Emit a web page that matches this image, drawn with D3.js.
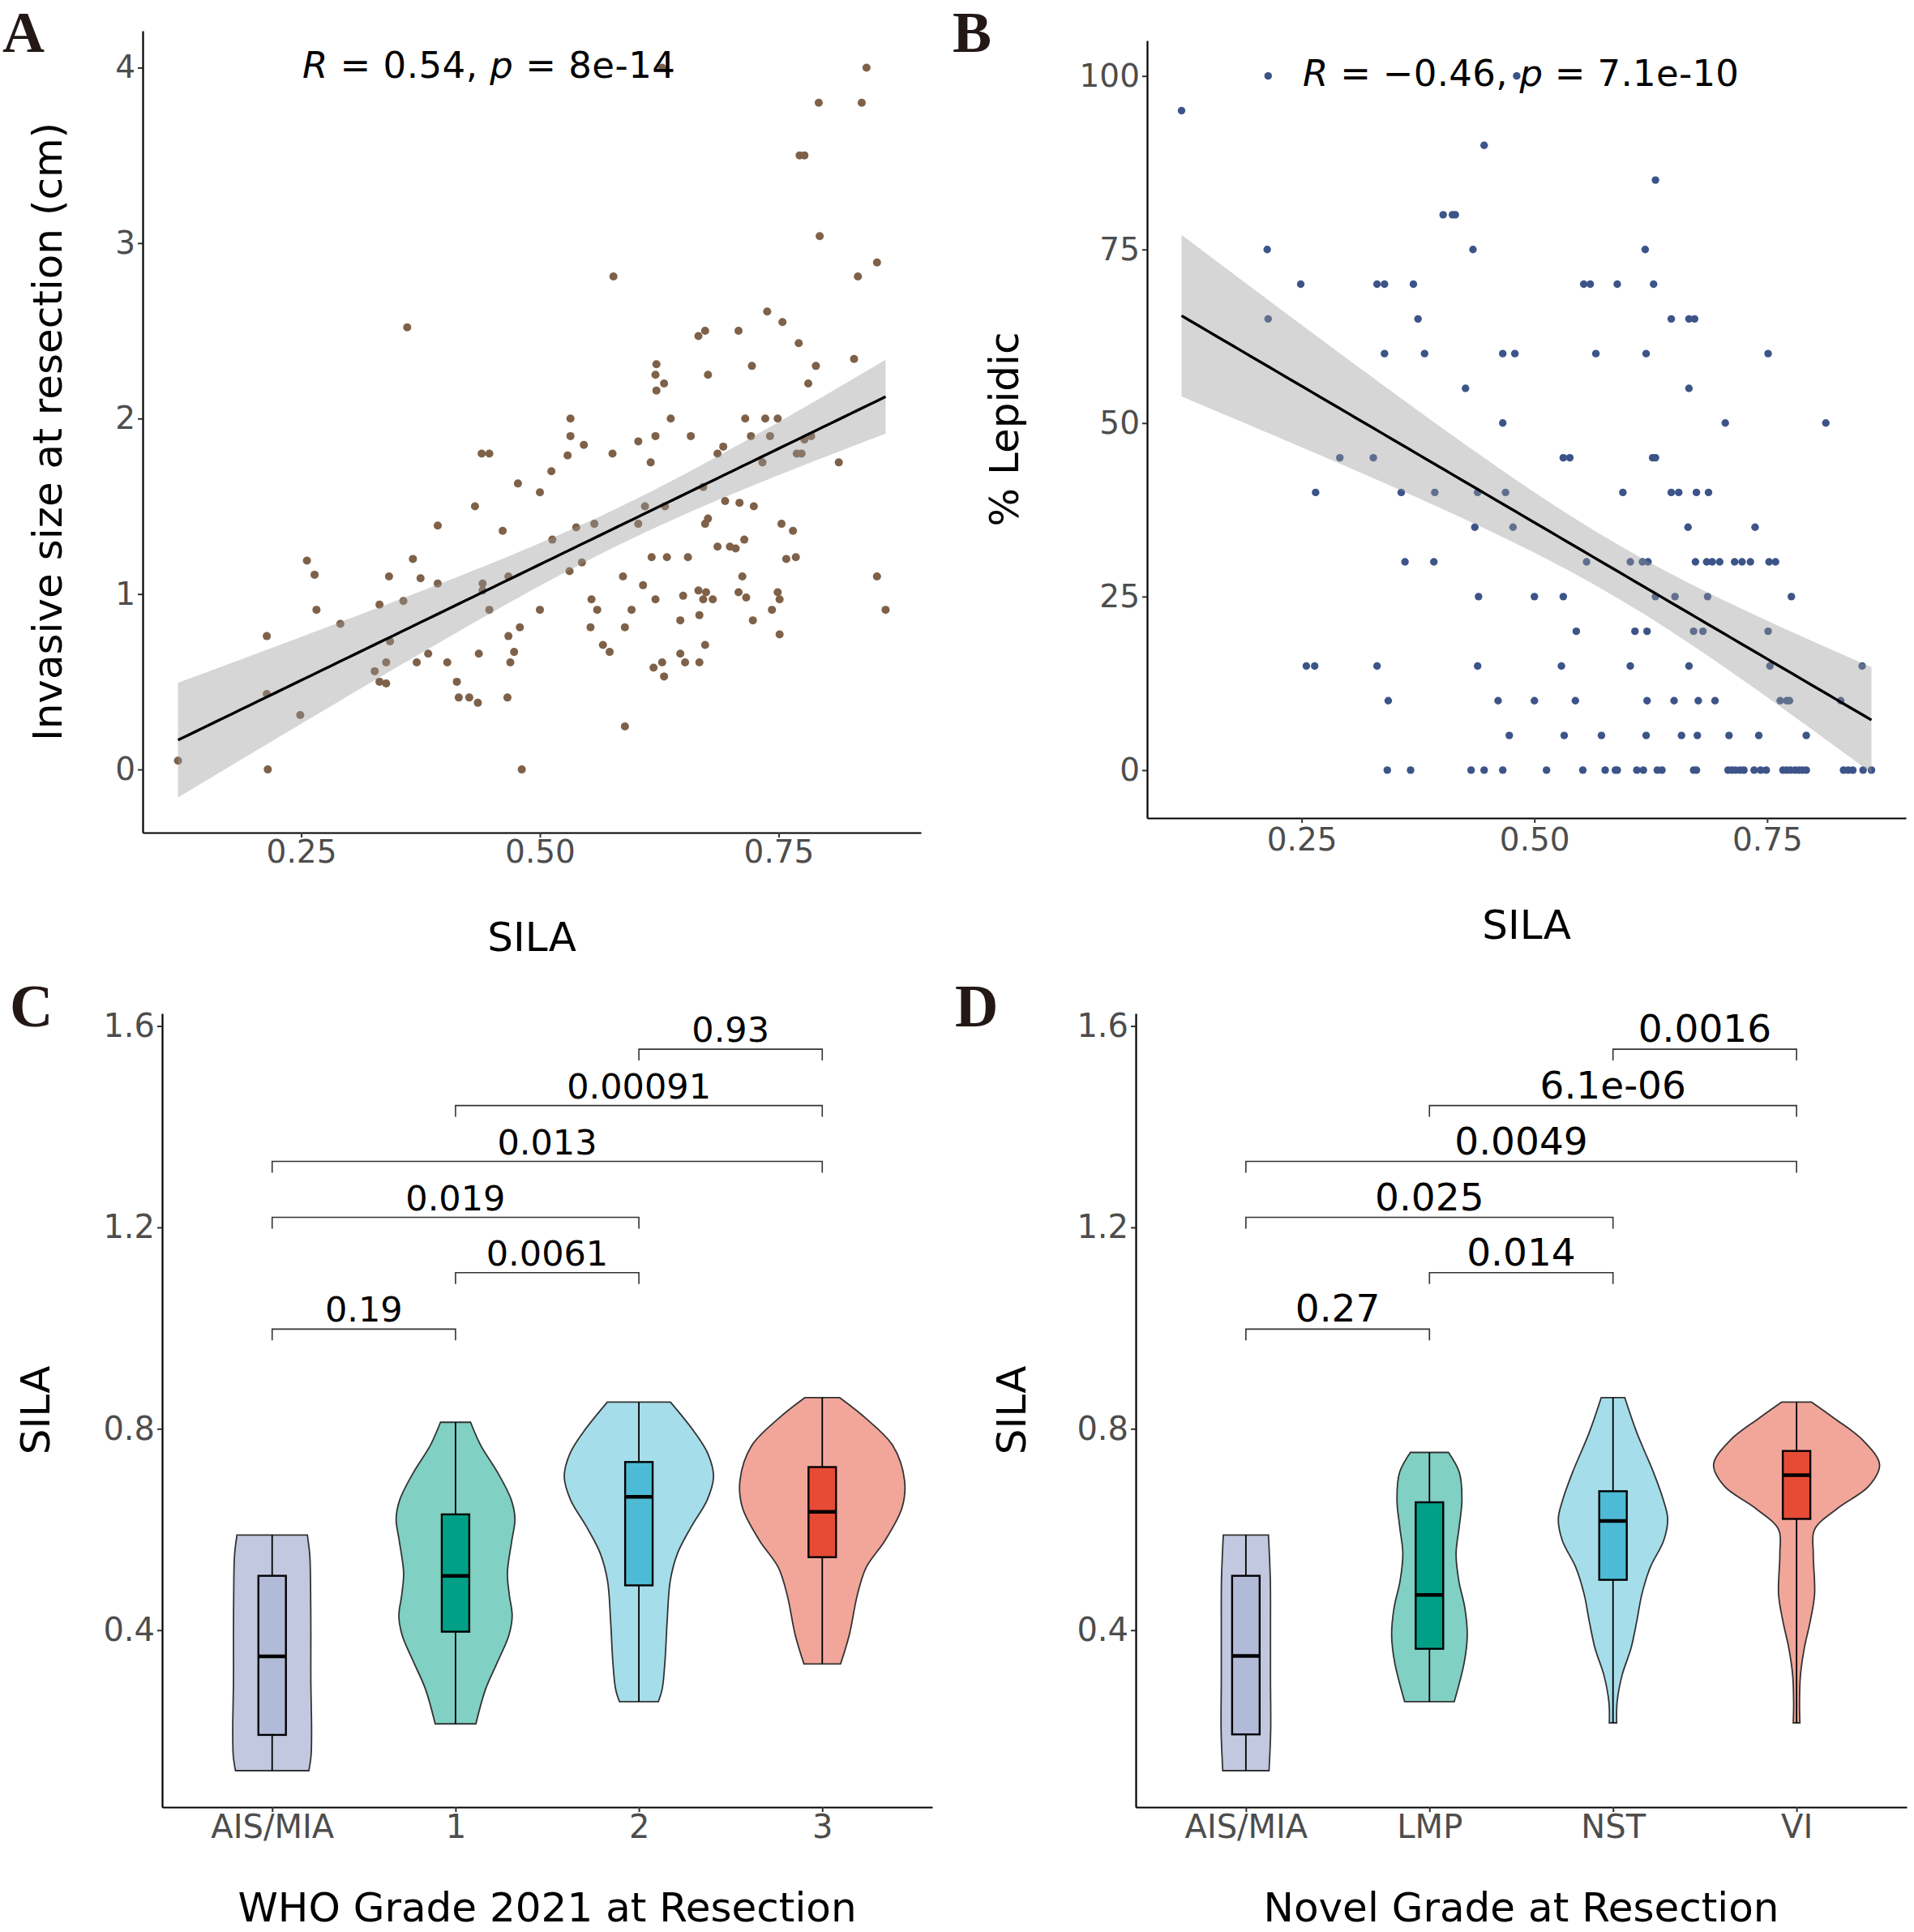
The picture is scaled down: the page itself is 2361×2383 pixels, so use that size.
<!DOCTYPE html>
<html><head><meta charset="utf-8">
<script src="https://cdn.jsdelivr.net/npm/d3@7"></script>
<style>
body{margin:0;background:#fff}
svg{display:block}
text{font-family:"DejaVu Sans",sans-serif}
</style>
</head><body>
<svg id="fig" width="2361" height="2383"></svg>
<script>
// ---------------- DATA ----------------
// Panel A: [SILA, invasive size at resection (cm)]
const pointsA = [
[0.628,4.00],[0.842,4.00],[0.792,3.80],[0.837,3.80],[0.772,3.50],[0.777,3.50],[0.793,3.04],[0.853,2.89],[0.833,2.81],[0.577,2.81],
[0.738,2.61],[0.754,2.55],[0.771,2.43],[0.829,2.34],[0.789,2.30],[0.781,2.20],[0.673,2.50],[0.666,2.47],[0.708,2.50],[0.722,2.30],
[0.676,2.25],[0.622,2.31],[0.621,2.25],[0.630,2.20],[0.622,2.16],[0.532,2.00],[0.532,1.90],[0.546,1.85],[0.603,1.87],[0.621,1.90],
[0.637,2.00],[0.658,1.90],[0.715,2.00],[0.736,2.00],[0.749,2.00],[0.721,1.90],[0.741,1.90],[0.777,1.88],[0.784,1.90],[0.692,1.84],
[0.361,2.52],
[0.529,1.79],[0.576,1.80],[0.616,1.75],[0.686,1.80],[0.769,1.80],[0.774,1.80],[0.733,1.75],[0.813,1.75],[0.512,1.70],[0.500,1.58],
[0.671,1.61],[0.610,1.50],[0.631,1.50],[0.694,1.53],[0.709,1.52],[0.724,1.50],[0.676,1.43],[0.673,1.40],[0.603,1.40],[0.557,1.40],
[0.538,1.38],[0.513,1.31],[0.753,1.40],[0.765,1.36],[0.714,1.31],[0.686,1.27],[0.699,1.27],[0.705,1.26],[0.544,1.18],[0.531,1.13],
[0.617,1.21],[0.633,1.21],[0.655,1.21],[0.758,1.20],[0.768,1.21],[0.587,1.10],[0.712,1.10],[0.853,1.10],[0.608,1.05],[0.666,1.02],
[0.674,1.01],[0.650,0.99],[0.554,0.97],[0.621,0.97],[0.671,0.97],[0.681,0.97],[0.708,1.01],[0.716,0.98],[0.749,1.01],[0.751,0.97],
[0.500,0.91],[0.560,0.91],[0.596,0.91],[0.743,0.91],[0.862,0.91],[0.667,0.88],[0.553,0.81],[0.589,0.81],[0.647,0.85],[0.723,0.85],
[0.751,0.77],[0.566,0.71],[0.573,0.67],[0.673,0.71],[0.647,0.66],[0.619,0.58],[0.628,0.61],[0.652,0.61],[0.667,0.61],[0.630,0.53],
[0.589,0.245],
[0.439,1.80],[0.447,1.80],[0.477,1.63],[0.432,1.50],[0.393,1.39],[0.461,1.36],[0.256,1.19],[0.367,1.20],[0.264,1.11],[0.342,1.10],
[0.375,1.09],[0.393,1.06],[0.440,1.06],[0.440,1.02],[0.467,1.10],[0.447,0.91],[0.266,0.91],[0.332,0.94],[0.357,0.96],[0.291,0.83],
[0.214,0.76],[0.479,0.81],[0.467,0.76],[0.473,0.67],[0.469,0.61],[0.343,0.73],[0.383,0.66],[0.371,0.61],[0.403,0.61],[0.436,0.66],
[0.339,0.61],[0.327,0.56],[0.332,0.50],[0.339,0.49],[0.413,0.50],[0.415,0.41],[0.426,0.41],[0.435,0.38],[0.466,0.41],[0.214,0.43],
[0.249,0.31],[0.121,0.05],[0.215,0.00],[0.481,0.00]
];

// Panel B: [SILA, % lepidic]
const pointsB = [
[0.121,95],[0.214,100],[0.481,100],[0.446,90],[0.402,80],[0.412,80],[0.415,80],[0.213,75],[0.434,75],[0.249,70],
[0.331,70],[0.339,70],[0.370,70],[0.214,65],[0.375,65],[0.339,60],[0.382,60],[0.466,60],[0.479,60],[0.426,55],[0.466,50],
[0.630,85],[0.619,75],[0.553,70],[0.560,70],[0.589,70],[0.628,70],[0.647,65],[0.666,65],[0.672,65],[0.566,60],[0.620,60],
[0.751,60],[0.666,55],[0.705,50],[0.813,50],
[0.291,45],[0.327,45],[0.265,40],[0.357,40],[0.393,40],[0.439,40],[0.469,40],[0.436,35],[0.477,35],[0.361,30],[0.392,30],
[0.440,25],[0.255,15],[0.264,15],[0.331,15],[0.439,15],[0.343,10],[0.461,10],[0.473,5],[0.342,0],[0.367,0],[0.432,0],
[0.446,0],[0.466,0],
[0.531,45],[0.538,45],[0.627,45],[0.630,45],[0.595,40],[0.647,40],[0.655,40],[0.674,40],[0.687,40],[0.665,35],[0.737,35],
[0.556,30],[0.603,30],[0.616,30],[0.622,30],[0.673,30],[0.685,30],[0.691,30],[0.699,30],[0.715,30],[0.723,30],[0.732,30],
[0.752,30],[0.759,30],[0.500,25],[0.531,25],[0.630,25],[0.651,25],[0.686,25],[0.776,25],[0.545,20],[0.608,20],[0.621,20],
[0.671,20],[0.681,20],[0.751,20],[0.529,15],[0.603,15],[0.666,15],[0.753,15],[0.852,15],[0.500,10],[0.544,10],[0.621,10],
[0.650,10],[0.676,10],[0.694,10],[0.764,10],[0.771,10],[0.774,10],[0.829,10],[0.532,5],[0.572,5],[0.620,5],[0.658,5],
[0.675,5],[0.709,5],[0.741,5],[0.792,5],
[0.513,0],[0.552,0],[0.576,0],[0.587,0],[0.589,0],[0.610,0],[0.617,0],[0.632,0],[0.637,0],[0.671,0],[0.674,0],[0.708,0],
[0.712,0],[0.716,0],[0.721,0],[0.725,0],[0.736,0],[0.743,0],[0.749,0],[0.767,0],[0.771,0],[0.775,0],[0.780,0],[0.784,0],
[0.788,0],[0.792,0],[0.832,0],[0.837,0],[0.842,0],[0.853,0],[0.862,0]
];

const xTicksAB = [0.25, 0.50, 0.75];
const yTicksA = [0, 1, 2, 3, 4];
const yTicksB = [0, 25, 50, 75, 100];
const statA = {r: "0.54", p: "8e-14"};
const statB = {r: "\u22120.46", p: "7.1e-10"};

// Panels C / D
const catsC = ["AIS/MIA", "1", "2", "3"];
const catsD = ["AIS/MIA", "LMP", "NST", "VI"];
const yTicksCD = [0.4, 0.8, 1.2, 1.6];
// violin density profiles: [SILA, half-width as fraction of category spacing]
const violinC = [
  [[0.589,0.192],[0.55,0.205],[0.5,0.209],[0.4,0.211],[0.3,0.211],[0.2,0.215],[0.15,0.212],[0.121,0.200]],
  [[0.813,0.082],[0.766,0.139],[0.713,0.230],[0.659,0.304],[0.621,0.324],[0.578,0.307],[0.514,0.283],[0.471,0.293],[0.428,0.309],[0.390,0.291],[0.337,0.229],[0.283,0.164],[0.214,0.111]],
  [[0.853,0.172],[0.793,0.304],[0.750,0.377],[0.705,0.407],[0.659,0.373],[0.605,0.285],[0.552,0.210],[0.498,0.171],[0.417,0.154],[0.337,0.142],[0.283,0.127],[0.258,0.106]],
  [[0.862,0.094],[0.820,0.240],[0.766,0.386],[0.697,0.449],[0.643,0.435],[0.578,0.342],[0.525,0.240],[0.471,0.192],[0.390,0.147],[0.333,0.100]]
];
const violinD = [
  [[0.589,0.123],[0.5,0.133],[0.4,0.134],[0.3,0.134],[0.2,0.135],[0.121,0.126]],
  [[0.753,0.104],[0.713,0.163],[0.659,0.177],[0.605,0.162],[0.552,0.145],[0.498,0.160],[0.444,0.193],[0.390,0.206],[0.337,0.190],[0.258,0.135]],
  [[0.862,0.064],[0.793,0.129],[0.713,0.221],[0.659,0.274],[0.621,0.298],[0.578,0.276],[0.525,0.203],[0.471,0.157],[0.417,0.129],[0.364,0.098],[0.310,0.049],[0.256,0.022],[0.216,0.020]],
  [[0.853,0.082],[0.820,0.209],[0.777,0.362],[0.729,0.452],[0.686,0.393],[0.643,0.227],[0.600,0.098],[0.552,0.091],[0.471,0.098],[0.417,0.074],[0.364,0.042],[0.310,0.021],[0.256,0.016],[0.216,0.018]]
];
// box stats: [min, q1, median, q3, max]
const boxC = [[0.121,0.192,0.348,0.508,0.589],[0.214,0.397,0.508,0.630,0.813],[0.258,0.489,0.665,0.734,0.853],[0.333,0.545,0.635,0.724,0.862]];
const boxD = [[0.121,0.193,0.349,0.508,0.589],[0.258,0.363,0.470,0.654,0.753],[0.216,0.500,0.617,0.676,0.862],[0.216,0.621,0.708,0.756,0.853]];
// pairwise comparisons: [group1, group2, y.position, p label]
const compC = [["AIS/MIA","1",0.998,"0.19"],["1","2",1.110,"0.0061"],["AIS/MIA","2",1.220,"0.019"],["AIS/MIA","3",1.331,"0.013"],["1","3",1.442,"0.00091"],["2","3",1.554,"0.93"]];
const compD = [["AIS/MIA","LMP",0.998,"0.27"],["LMP","NST",1.110,"0.014"],["AIS/MIA","NST",1.220,"0.025"],["AIS/MIA","VI",1.331,"0.0049"],["LMP","VI",1.442,"6.1e-06"],["NST","VI",1.554,"0.0016"]];

// ---------------- STYLE ----------------
const boxColors = ["#B1BAD7","#00A087","#4DBBD5","#E64B35"];
const violinColors = ["#C2C8E0","#80D0C3","#A6DDEA","#F2A69A"];
const tickGrey = "#4D4D4D";

const svg = d3.select("#fig");

function styleAxis(g, fs){
  g.select(".domain").attr("stroke","#000").attr("stroke-width",2.2);
  g.selectAll(".tick line").attr("stroke","#333").attr("stroke-width",2);
  g.selectAll(".tick text").attr("fill",tickGrey).style("font-size",fs+"px").style("font-family","DejaVu Sans");
}

function lmBand(pts, n){
  const N = pts.length;
  const mx = d3.mean(pts,d=>d[0]), my = d3.mean(pts,d=>d[1]);
  let sxx=0, sxy=0;
  pts.forEach(([a,b])=>{sxx+=(a-mx)*(a-mx); sxy+=(a-mx)*(b-my);});
  const b1 = sxy/sxx, b0 = my-b1*mx;
  let sse=0; pts.forEach(([a,b])=>{const e=b-b0-b1*a; sse+=e*e;});
  const s = Math.sqrt(sse/(N-2)), t = 1.976;
  const [x0,x1] = d3.extent(pts,d=>d[0]);
  return d3.range(n).map(i=>{
    const xv = x0+(x1-x0)*i/(n-1), f = b0+b1*xv;
    const se = s*Math.sqrt(1/N+(xv-mx)*(xv-mx)/sxx);
    return {x:xv, y:f, lo:f-t*se, hi:f+t*se};
  });
}

function scatterPanel(o){
  const g = svg.append("g");
  const x = d3.scaleLinear().domain(o.xDomain).range([o.left,o.right]);
  const y = d3.scaleLinear().domain(o.yDomain).range([o.bottom,o.top]);
  g.append("g").selectAll("circle").data(o.points).join("circle")
    .attr("cx",d=>x(d[0])).attr("cy",d=>y(d[1])).attr("r",o.r).attr("fill",o.color);
  const fit = lmBand(o.points, 80);
  g.append("path").datum(fit)
    .attr("d", d3.area().x(d=>x(d.x)).y0(d=>y(d.lo)).y1(d=>y(d.hi)))
    .attr("fill","#999999").attr("fill-opacity",0.4);
  g.append("path").datum(fit)
    .attr("d", d3.line().x(d=>x(d.x)).y(d=>y(d.y)))
    .attr("fill","none").attr("stroke","#000").attr("stroke-width",3.4);
  const ax = g.append("g").attr("transform",`translate(0,${o.bottom})`)
    .call(d3.axisBottom(x).tickValues(xTicksAB).tickFormat(d3.format(".2f")).tickSize(6).tickSizeOuter(0).tickPadding(o.xPad));
  styleAxis(ax, 39);
  const ay = g.append("g").attr("transform",`translate(${o.left},0)`)
    .call(d3.axisLeft(y).tickValues(o.yTicks).tickFormat(d3.format("d")).tickSize(6).tickSizeOuter(0).tickPadding(3));
  styleAxis(ay, 39);
  // titles
  g.append("text").attr("x",(o.left+o.right)/2).attr("y",o.xTitleY).attr("text-anchor","middle")
    .style("font-size","50px").attr("fill","#000").text("SILA");
  g.append("text").attr("transform",`translate(${o.yTitleX},${(o.top+o.bottom)/2}) rotate(-90)`)
    .attr("text-anchor","middle").style("font-size","50px").attr("fill","#000").text(o.yTitle);
  // correlation annotation
  const t = g.append("text").attr("x",o.statX).attr("y",o.statY).style("font-size","45px").attr("fill","#000")
    .attr("textLength",o.statW).attr("lengthAdjust","spacing");
  t.append("tspan").style("font-style","italic").text("R");
  t.append("tspan").text(" = "+o.stat.r+", ");
  t.append("tspan").style("font-style","italic").text("p");
  t.append("tspan").text(" = "+o.stat.p);
}

function violinPanel(o){
  const g = svg.append("g");
  const x = d3.scalePoint().domain(o.cats).range([o.left,o.right]).padding(0.6);
  const step = x.step();
  const y = d3.scaleLinear().domain([0.0485,1.625]).range([o.bottom,o.top]);
  o.cats.forEach((c,i)=>{
    const cx = x(c);
    const area = d3.area().curve(d3.curveCatmullRom.alpha(0.5))
      .y(d=>y(d[0])).x0(d=>cx-d[1]*step).x1(d=>cx+d[1]*step);
    g.append("path").attr("d",area(o.violins[i])).attr("fill",violinColors[i])
      .attr("stroke","#333").attr("stroke-width",1.8);
    const b = o.boxes[i], bw = 0.15*step;
    g.append("line").attr("x1",cx).attr("x2",cx).attr("y1",y(b[0])).attr("y2",y(b[4]))
      .attr("stroke","#000").attr("stroke-width",1.8);
    g.append("rect").attr("x",cx-bw/2).attr("width",bw).attr("y",y(b[3])).attr("height",y(b[1])-y(b[3]))
      .attr("fill",boxColors[i]).attr("stroke","#000").attr("stroke-width",2.4);
    g.append("line").attr("x1",cx-bw/2).attr("x2",cx+bw/2).attr("y1",y(b[2])).attr("y2",y(b[2]))
      .attr("stroke","#000").attr("stroke-width",4.5);
  });
  // comparison brackets
  const tick = 0.0225;
  o.comps.forEach(cmp=>{
    const x1 = x(cmp[0]), x2 = x(cmp[1]), yy = y(cmp[2]), yt = y(cmp[2]-tick);
    g.append("path").attr("d",`M${x1},${yt}L${x1},${yy}L${x2},${yy}L${x2},${yt}`)
      .attr("fill","none").attr("stroke","#333").attr("stroke-width",1.6);
    g.append("text").attr("x",(x1+x2)/2).attr("y",yy-9).attr("text-anchor","middle")
      .style("font-size",o.labelSize+"px").attr("fill","#000").text(cmp[3]);
  });
  const ax = g.append("g").attr("transform",`translate(0,${o.bottom})`)
    .call(d3.axisBottom(x).tickSize(6).tickSizeOuter(0).tickPadding(4));
  styleAxis(ax, 40);
  const ay = g.append("g").attr("transform",`translate(${o.left},0)`)
    .call(d3.axisLeft(y).tickValues(yTicksCD).tickFormat(d3.format(".1f")).tickSize(6).tickSizeOuter(0).tickPadding(3));
  styleAxis(ay, 40);
  g.append("text").attr("x",(o.left+o.right)/2).attr("y",2370).attr("text-anchor","middle")
    .style("font-size","50px").attr("fill","#000").text(o.xTitle);
  g.append("text").attr("transform",`translate(${o.yTitleX},${(o.top+o.bottom)/2}) rotate(-90)`)
    .attr("text-anchor","middle").style("font-size","50px").attr("fill","#000").text("SILA");
}

scatterPanel({points:pointsA, xDomain:[0.084,0.899], yDomain:[-0.36,4.21], left:176, right:1136, top:38, bottom:1027,
  r:5, color:"#7E6148", yTicks:yTicksA, yTitle:"Invasive size at resection (cm)", yTitleX:76, xTitleY:1173, xPad:3,
  stat:statA, statX:373, statY:96, statW:460});
scatterPanel({points:pointsB, xDomain:[0.084,0.899], yDomain:[-6.9,105.1], left:1415, right:2351, top:50, bottom:1009,
  r:4.7, color:"#3C5488", yTicks:yTicksB, yTitle:"% Lepidic", yTitleX:1256, xTitleY:1158, xPad:6,
  stat:statB, statX:1607, statY:106, statW:538});
violinPanel({cats:catsC, violins:violinC, boxes:boxC, comps:compC, left:200, right:1150, top:1250, bottom:2229,
  labelSize:43, xTitle:"WHO Grade 2021 at Resection", yTitleX:61});
violinPanel({cats:catsD, violins:violinD, boxes:boxD, comps:compD, left:1401, right:2352, top:1250, bottom:2229,
  labelSize:47, xTitle:"Novel Grade at Resection", yTitleX:1265});

// panel letters
const letters = [["A",3,64,72],["B",1175,64,72],["C",12,1266,74],["D",1178,1266,74]];
svg.selectAll("text.letter").data(letters).join("text").attr("class","letter")
  .attr("x",d=>d[1]).attr("y",d=>d[2]).text(d=>d[0])
  .style("font-family","'Liberation Serif',serif").style("font-weight","bold").style("font-size",d=>d[3]+"px").attr("fill","#231816");
</script>
</body></html>
